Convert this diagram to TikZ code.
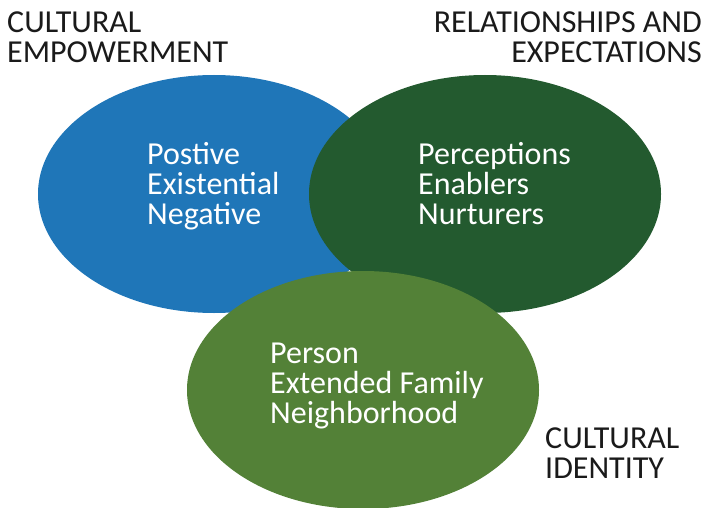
\documentclass[tikz,border=0pt]{standalone}
\usepackage{fontspec}
\setmainfont{Carlito}
\usetikzlibrary{shapes.geometric}
\definecolor{cblue}{HTML}{1F76B8}
\definecolor{cdark}{HTML}{235A2F}
\definecolor{clight}{HTML}{538137}
\definecolor{ctext}{HTML}{1A1A1A}
\tikzset{
  blob/.style={ellipse, draw=none, inner sep=0pt, minimum width=352pt, minimum height=238pt},
  intext/.style={anchor=base west, align=left, text=white, inner sep=0pt, font=\fontsize{32}{30}\selectfont},
  title/.style={inner sep=0pt, text=ctext, font=\fontsize{32}{30}\selectfont}
}
\begin{document}
\begin{tikzpicture}[x=1pt,y=-1pt]
\useasboundingbox (0,0) rectangle (706,508);
\node[blob, fill=cblue] (blue) at (214,194) {};
\node[blob, fill=cdark] (dark) at (485,194) {};
\node[blob, fill=clight] (light) at (363,390) {};
\node[intext] (t1) at (147,224) {Postive\\Existential\\Negative};
\node[intext] (t2) at (418,224) {Perceptions\\Enablers\\Nurturers};
\node[intext] (t3) at (270,423) {Person\\Extended Family\\Neighborhood};
\node[title, anchor=base west, align=left] (h1) at (7,63) {CULTURAL\\EMPOWERMENT};
\node[title, anchor=base east, align=right] (h2) at (702,63) {RELATIONSHIPS AND\\EXPECTATIONS};
\node[title, anchor=base west, align=left] (h3) at (545,478) {CULTURAL\\IDENTITY};
\end{tikzpicture}
\end{document}
